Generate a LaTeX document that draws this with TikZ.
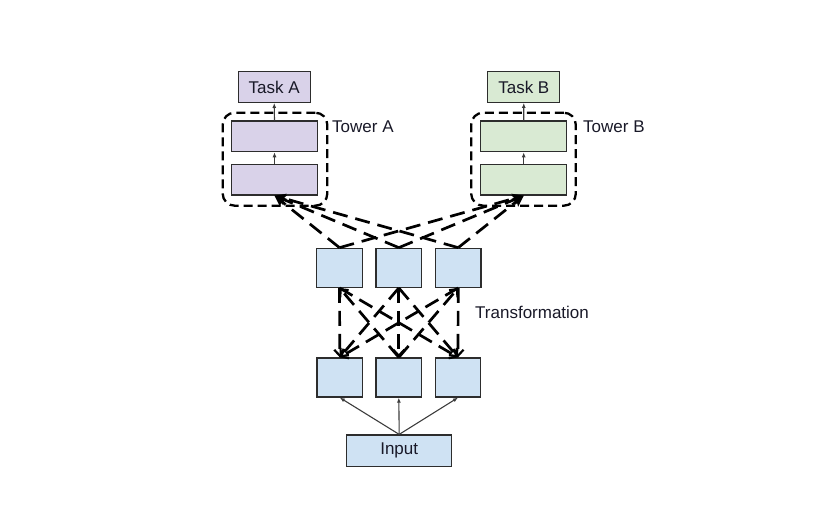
\documentclass[tikz,border=0pt]{standalone}
\usepackage{fontspec}
\setmainfont{Liberation Sans}
\usetikzlibrary{arrows.meta}
\definecolor{lav}{RGB}{217,210,233}
\definecolor{grn}{RGB}{217,234,211}
\definecolor{blu}{RGB}{207,226,243}
\definecolor{edge}{RGB}{45,45,45}
\definecolor{txt}{RGB}{25,25,40}
\definecolor{thinc}{RGB}{60,60,60}
\begin{document}
\begin{tikzpicture}[x=1pt,y=-1pt,
  lbl/.style={font=\fontsize{17}{20}\selectfont,text=txt},
  box/.style={draw=edge,line width=1.3pt,inner sep=0pt,lbl},
  sq/.style={box,fill=blu,minimum width=45.5pt,minimum height=39pt},
  tw/.style={box,minimum width=85.8pt,minimum height=30.7pt},
  tower/.style={draw=black,line width=2.3pt,dash pattern=on 9pt off 5pt,rounded corners=12pt,minimum width=104.6pt,minimum height=93pt,inner sep=0pt},
  thinarr/.style={draw=thinc,line width=1.1pt,-{Latex[length=5pt,width=4pt]}},
  toparr/.style={draw=black,line width=2.7pt,dash pattern=on 15pt off 8pt,-{Stealth[length=11pt,width=10pt,inset=2pt]}},
  tarr/.style={draw=black,line width=2.7pt,dash pattern=on 15pt off 8pt,-{Straight Barb[length=6pt,width=11pt,line width=2.2pt]}}
]
\useasboundingbox (0,0) rectangle (832,521);

% towers
\node[tower] (towA) at (275,159.2) {};
\node[tower] (towB) at (523.5,159.2) {};
\node[box,fill=lav,minimum width=72pt,minimum height=30.6pt] (taskA) at (274.2,87) {Task A};
\node[box,fill=grn,minimum width=72pt,minimum height=30.6pt] (taskB) at (523.8,87) {Task B};
\node[tw,fill=lav] (Aup) at (274.5,136.3) {};
\node[tw,fill=lav] (Alow) at (274.5,179.7) {};
\node[tw,fill=grn] (Bup) at (523.7,136.3) {};
\node[tw,fill=grn] (Blow) at (523.7,179.7) {};
\node[lbl,anchor=west,inner sep=0pt] (labA) at (332,127) {Tower A};
\node[lbl,anchor=west,inner sep=0pt] (labB) at (583,127) {Tower B};

\draw[thinarr] (Alow.north) -- (Aup.south);
\draw[thinarr] (Aup.north) -- (taskA.south);
\draw[thinarr] (Blow.north) -- (Bup.south);
\draw[thinarr] (Bup.north) -- (taskB.south);

% middle and bottom rows
\node[sq] (m1) at (339.5,267.8) {};
\node[sq] (m2) at (398.8,267.8) {};
\node[sq] (m3) at (458.2,267.8) {};
\node[sq] (b1) at (339.8,377.5) {};
\node[sq] (b2) at (398.8,377.5) {};
\node[sq] (b3) at (458.0,377.5) {};
\node[box,fill=blu,minimum width=105pt,minimum height=31.5pt] (inp) at (399.2,450.8) {Input};
\node[lbl,anchor=west,inner sep=0pt] (labT) at (475,312) {Transformation};

\foreach \b in {b1,b2,b3} \draw[thinarr] (inp.north) -- (\b.south);

% top dashed connections
\foreach \m in {m1,m2,m3} {
  \draw[toparr] (\m.north) -- (Alow.south);
  \draw[toparr] (\m.north) -- (Blow.south);
}

% transformation
\draw[tarr] (m1.south) -- (b1.north);
\draw[tarr] (b2.north) -- (m1.south);
\draw[tarr] (m1.south) -- (b3.north);
\draw[tarr] (m2.south) -- (b1.north);
\draw[tarr] (m2.south) -- (b2.north);
\draw[tarr] (m2.south) -- (b3.north);
\draw[tarr] (m3.south) -- (b3.north);
\draw[tarr] (b2.north) -- (m3.south);
\draw[tarr] (m3.south) -- (b1.north);
\end{tikzpicture}
\end{document}
